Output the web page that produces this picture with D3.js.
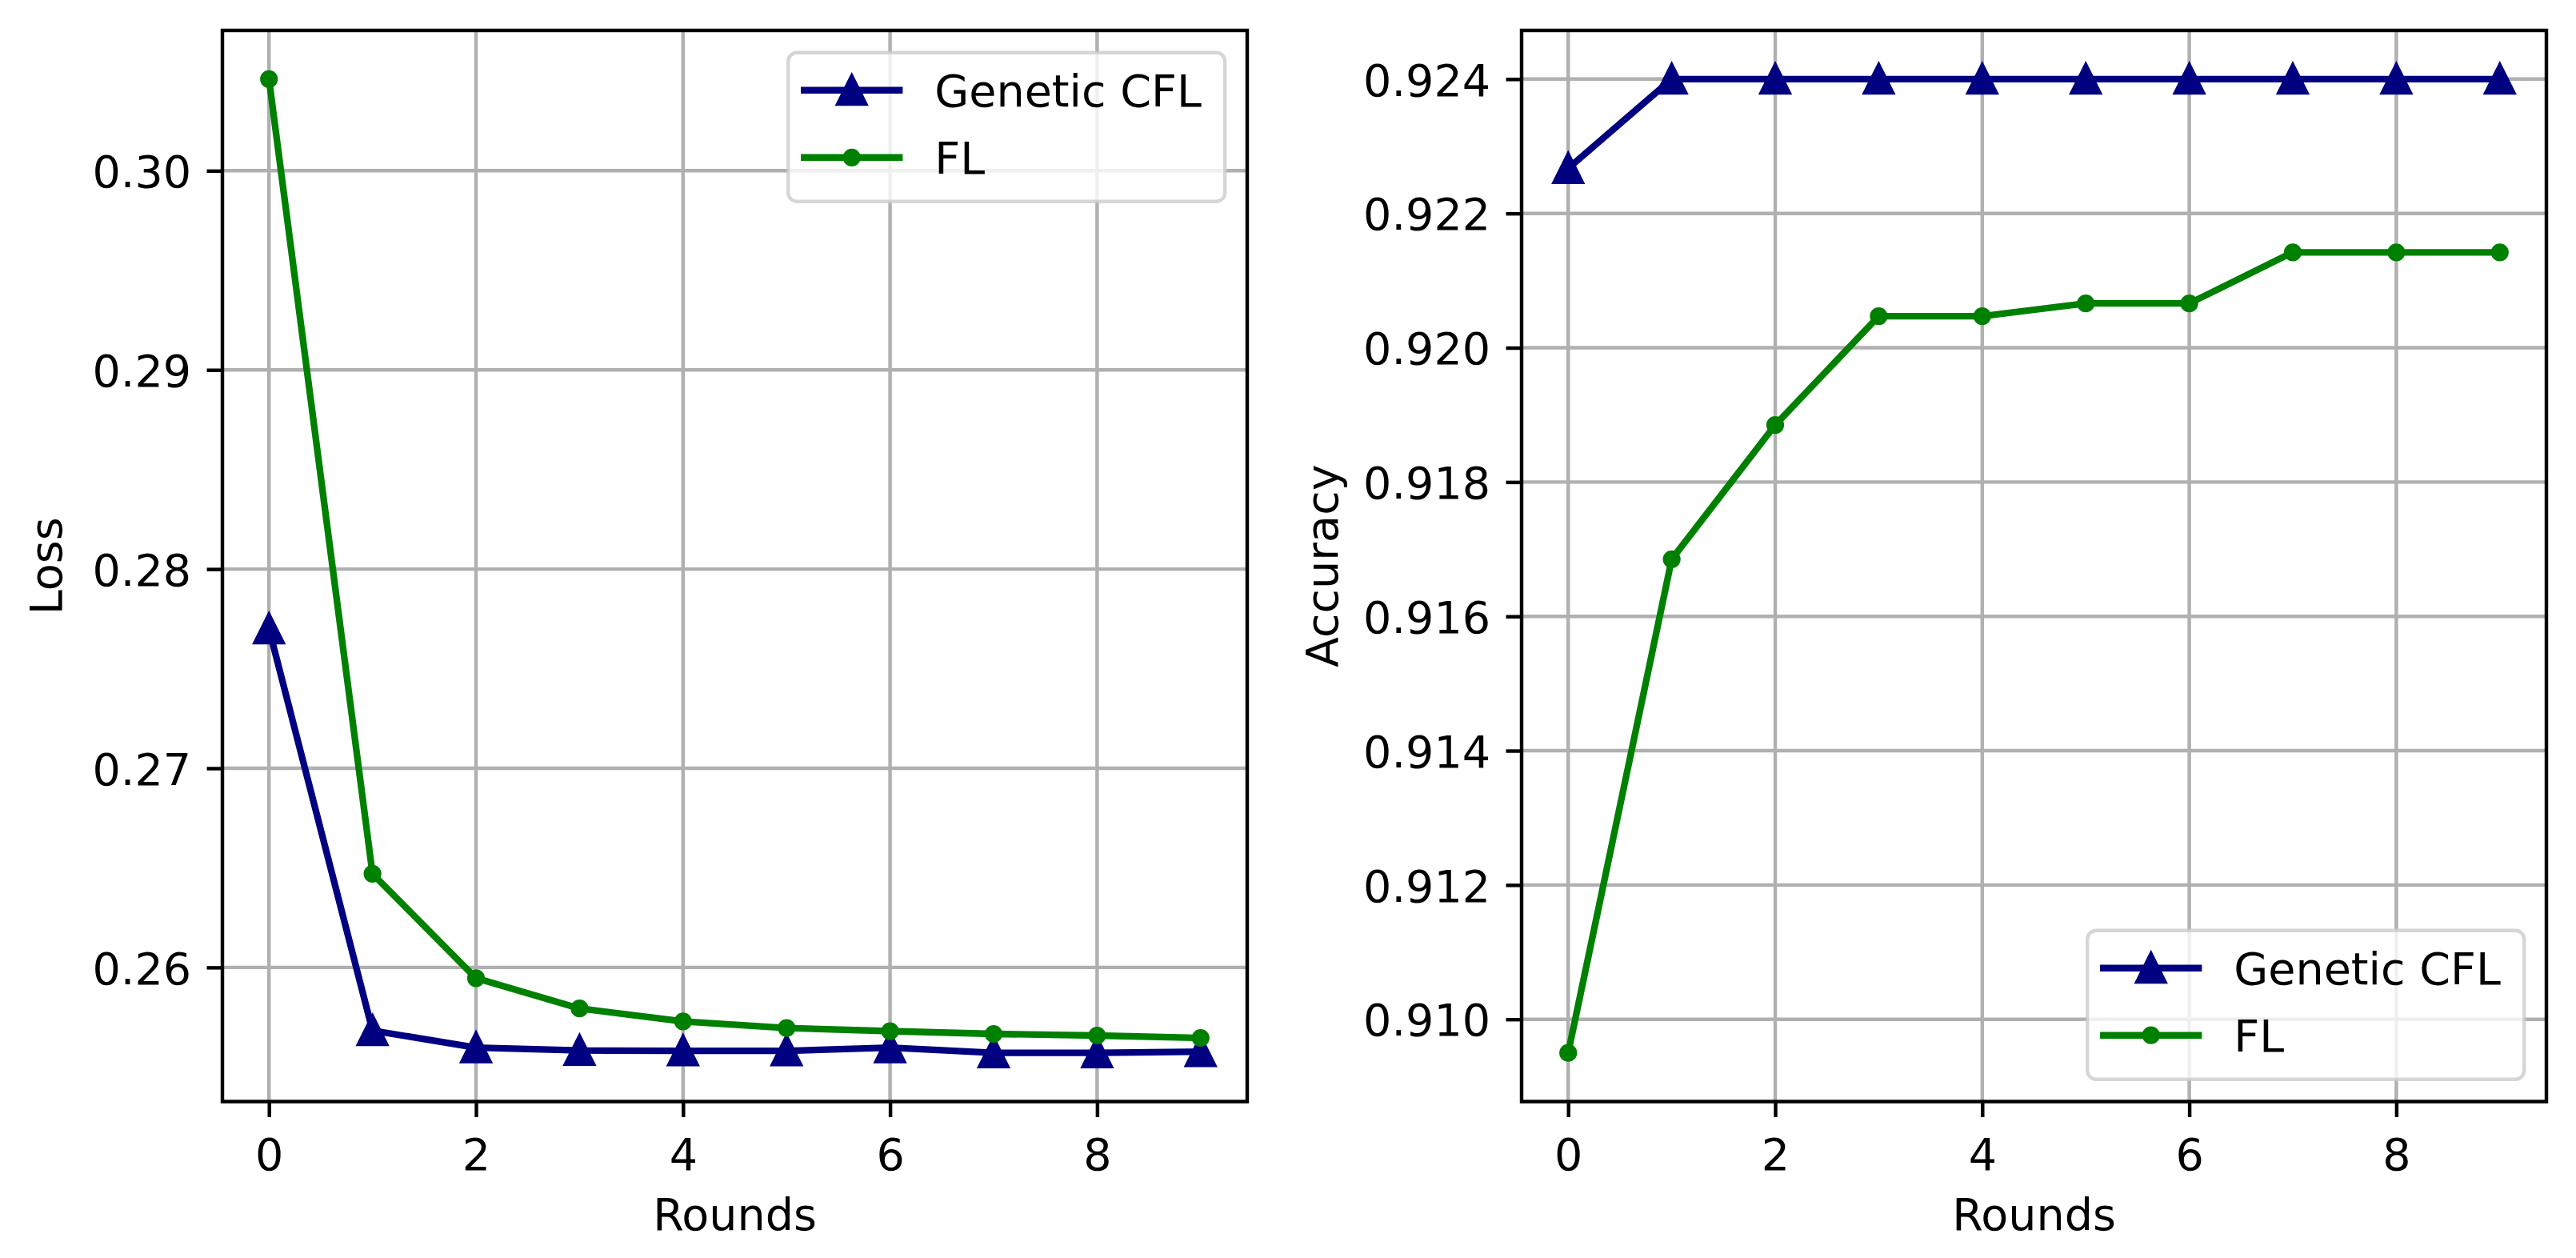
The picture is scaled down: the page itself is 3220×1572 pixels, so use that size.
<!DOCTYPE html>
<html><head><meta charset="utf-8">
<script src="https://cdn.jsdelivr.net/npm/d3@7"></script>
<style>body{margin:0;background:#fff}</style>
</head><body>
<svg id="chart" width="3220" height="1572" xmlns="http://www.w3.org/2000/svg"></svg>
<script>
// ---- data ----
const rounds = [0, 1, 2, 3, 4, 5, 6, 7, 8, 9];
const seriesNames = ["Genetic CFL", "FL"];
const lossGeneticCFL = [0.2770, 0.25683, 0.25597, 0.25583, 0.25581, 0.25581, 0.25597, 0.25571, 0.25571, 0.25577];
const lossFL = [0.3046, 0.2647, 0.25946, 0.25794, 0.25729, 0.25696, 0.25680, 0.25666, 0.25658, 0.25646];
const accGeneticCFL = [0.92267, 0.924, 0.924, 0.924, 0.924, 0.924, 0.924, 0.924, 0.924, 0.924];
const accFL = [0.9095, 0.91685, 0.91885, 0.92047, 0.92047, 0.92066, 0.92066, 0.92142, 0.92142, 0.92142];
const xTicks = [0, 2, 4, 6, 8];
const lossTicks = [0.26, 0.27, 0.28, 0.29, 0.30];
const accTicks = [0.910, 0.912, 0.914, 0.916, 0.918, 0.920, 0.922, 0.924];

// ---- style ----
const PT = 400 / 72;
const FS = 10 * PT;            // 55.6px
const LW = 1.5 * PT;           // line width
const MS = 6 * PT;             // marker size
const MEW = 1 * PT;            // marker edge width
const AXW = 0.8 * PT;          // spine / tick / grid width
const TICKLEN = 3.5 * PT;
const PAD = 3.5 * PT;
const colors = ["#000080", "#008000"];
const FONT = "DejaVu Sans, Verdana, sans-serif";

const svg = d3.select("#chart");
svg.append("rect").attr("width", 3220).attr("height", 1572).attr("fill", "#fff");

function panel(cfg) {
  const {x0, x1, y0, y1, series, yTicks, yFmt, ylabel, ylabelX, legendPos} = cfg;
  const g = svg.append("g");
  const xs = d3.scaleLinear().domain([-0.45, 9.45]).range([x0, x1]);
  const all = series.flat();
  const mn = d3.min(all), mx = d3.max(all), sp = mx - mn;
  const ys = d3.scaleLinear().domain([mn - 0.05 * sp, mx + 0.05 * sp]).range([y1, y0]);

  // grid
  const grid = g.append("g");
  xTicks.forEach(t => grid.append("line").attr("x1", xs(t)).attr("x2", xs(t)).attr("y1", y0).attr("y2", y1)
    .attr("stroke", "#b0b0b0").attr("stroke-width", AXW));
  yTicks.forEach(t => grid.append("line").attr("x1", x0).attr("x2", x1).attr("y1", ys(t)).attr("y2", ys(t))
    .attr("stroke", "#b0b0b0").attr("stroke-width", AXW));

  // lines + markers
  series.forEach((vals, i) => {
    const line = d3.line().x((d, j) => xs(rounds[j])).y(d => ys(d));
    g.append("path").attr("d", line(vals)).attr("fill", "none").attr("stroke", colors[i])
      .attr("stroke-width", LW).attr("stroke-linejoin", "round").attr("stroke-linecap", "square");
    vals.forEach((v, j) => drawMarker(g, i, xs(rounds[j]), ys(v)));
  });

  // axes
  const xa = d3.axisBottom(xs).tickValues(xTicks).tickFormat(d3.format("d")).tickSize(TICKLEN).tickPadding(PAD);
  const xg = g.append("g").attr("transform", `translate(0,${y1})`).call(xa);
  const ya = d3.axisLeft(ys).tickValues(yTicks).tickFormat(d3.format(yFmt)).tickSize(TICKLEN).tickPadding(PAD);
  const yg = g.append("g").attr("transform", `translate(${x0},0)`).call(ya);
  [xg, yg].forEach(a => {
    a.select(".domain").remove();
    a.selectAll(".tick line").attr("stroke", "#000").attr("stroke-width", AXW);
    a.selectAll(".tick text").attr("fill", "#000").style("font-family", FONT).style("font-size", FS + "px");
  });
  xg.selectAll(".tick text").attr("y", TICKLEN + PAD + 0.729 * FS + 6).attr("dy", null);
  yg.selectAll(".tick text").attr("dy", (0.364 * FS) + "px");

  // spines
  g.append("rect").attr("x", x0).attr("y", y0).attr("width", x1 - x0).attr("height", y1 - y0)
    .attr("fill", "none").attr("stroke", "#000").attr("stroke-width", AXW);

  // labels
  g.append("text").attr("x", (x0 + x1) / 2).attr("y", 1537).attr("text-anchor", "middle")
    .style("font-family", FONT).style("font-size", FS + "px").text("Rounds");
  g.append("text").attr("transform", `translate(${ylabelX},${(y0 + y1) / 2}) rotate(-90)`).attr("text-anchor", "middle")
    .style("font-family", FONT).style("font-size", FS + "px").text(ylabel);

  // legend
  const bw = 546, bh = 186, bpad = 0.5 * FS;
  const lx = x1 - bpad - bw;
  const ly = legendPos === "upper right" ? y0 + bpad : y1 - bpad - bh;
  const lg = g.append("g");
  lg.append("rect").attr("x", lx).attr("y", ly).attr("width", bw).attr("height", bh).attr("rx", 0.2 * FS)
    .attr("fill", "#fff").attr("fill-opacity", 0.8).attr("stroke", "#cccccc").attr("stroke-opacity", 0.8)
    .attr("stroke-width", AXW);
  seriesNames.forEach((name, i) => {
    const cy = ly + 47 + i * 84;
    const hx0 = lx + 20, hx1 = lx + 139;
    lg.append("line").attr("x1", hx0).attr("x2", hx1).attr("y1", cy).attr("y2", cy)
      .attr("stroke", colors[i]).attr("stroke-width", LW).attr("stroke-linecap", "square");
    drawMarker(lg, i, (hx0 + hx1) / 2, cy);
    lg.append("text").attr("x", lx + 183).attr("y", cy + 20.5)
      .style("font-family", FONT).style("font-size", FS + "px").text(name);
  });
}

function drawMarker(g, i, x, y) {
  if (i === 0) {
    const h = MS / 2;
    g.append("path").attr("d", `M${x},${y - h}L${x - h},${y + h}L${x + h},${y + h}Z`)
      .attr("fill", colors[0]).attr("stroke", colors[0]).attr("stroke-width", MEW).attr("stroke-linejoin", "miter");
  } else {
    g.append("circle").attr("cx", x).attr("cy", y).attr("r", MS / 4)
      .attr("fill", colors[1]).attr("stroke", colors[1]).attr("stroke-width", MEW);
  }
}

panel({x0: 278, x1: 1559, y0: 38, y1: 1376.5, series: [lossGeneticCFL, lossFL], yTicks: lossTicks, yFmt: ".2f",
  ylabel: "Loss", ylabelX: 76.5, legendPos: "upper right"});
panel({x0: 1902, x1: 3183, y0: 38, y1: 1376.5, series: [accGeneticCFL, accFL], yTicks: accTicks, yFmt: ".3f",
  ylabel: "Accuracy", ylabelX: 1672, legendPos: "lower right"});
</script>
</body></html>
